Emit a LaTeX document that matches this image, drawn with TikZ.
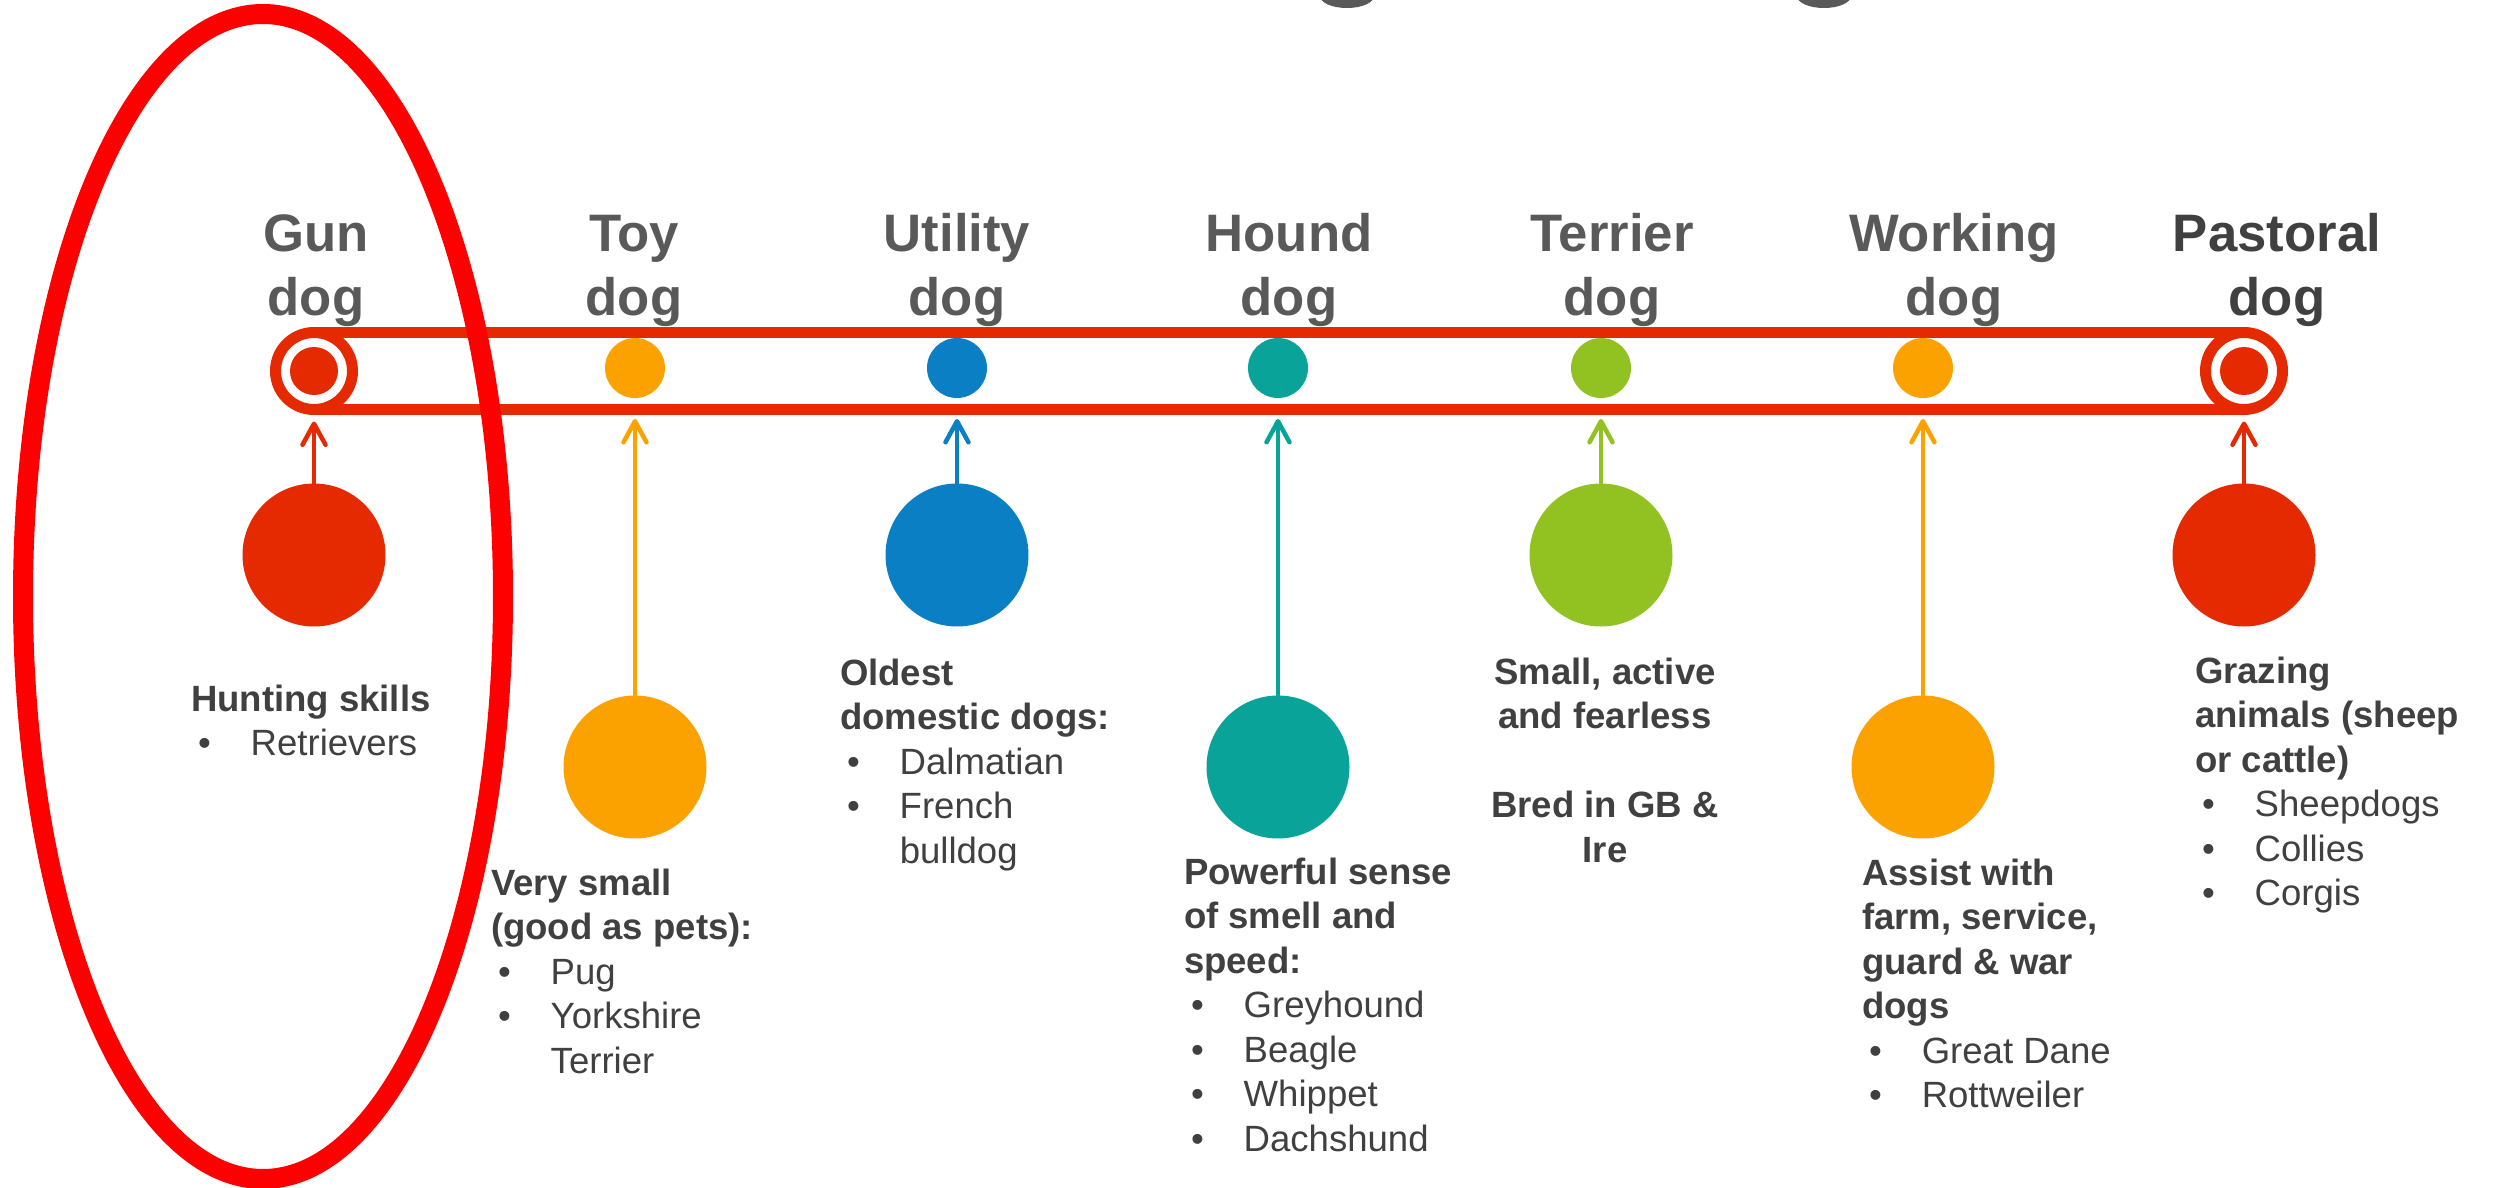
\documentclass[tikz,border=0pt]{standalone}
\usepackage{fontspec}
\setmainfont{Liberation Sans}
\usetikzlibrary{arrows.meta,positioning}

\definecolor{dogred}{HTML}{E52900}
\definecolor{dogorange}{HTML}{FBA200}
\definecolor{dogblue}{HTML}{0B7FC4}
\definecolor{dogteal}{HTML}{0AA39A}
\definecolor{doggreen}{HTML}{91C222}
\definecolor{ovalred}{HTML}{FF0000}
\definecolor{labelgray}{HTML}{595959}
\definecolor{infogray}{HTML}{404040}

\newcommand{\dogitem}[1]{\makebox[17pt][l]{\hspace{2pt}\textbullet}#1}
\newcommand{\dogmore}[1]{\hspace*{17pt}#1}

\begin{document}
\begin{tikzpicture}[x=0.1mm,y=-0.1mm]
\tikzstyle{every node}=[inner sep=0pt, outer sep=0pt]
\tikzstyle{catdot}=[circle, minimum size=6mm]
\tikzstyle{catring}=[circle, draw=dogred, line width=1.1mm, minimum size=7.7mm]
\tikzstyle{bigdot}=[circle, minimum size=14.3mm]
\tikzstyle{catlabel}=[anchor=base, align=center, text=labelgray, font=\fontsize{15}{18.2}\selectfont\bfseries]
\tikzstyle{info}=[anchor=base west, align=left, text=infogray, font=\fontsize{10.4}{12.66}\selectfont]
\tikzstyle{hang}=[line width=0.45mm, -{Straight Barb[length=2.1mm,width=2.3mm,round]}, shorten >=2.1mm]

\useasboundingbox (0,0) rectangle (2496,1188);

% bits of the cut-off title
\fill[labelgray] (1347,-4) ellipse [x radius=2.7mm, y radius=1.2mm];
\fill[labelgray] (1824,-4) ellipse [x radius=2.7mm, y radius=1.2mm];

% track
\draw (314,371) node (gunRing) [catring] {};
\draw (2244,371) node (pasRing) [catring] {};
\draw[dogred, line width=1.1mm] (gunRing.north) -- (pasRing.north);
\draw[dogred, line width=1.1mm] (gunRing.south) -- (pasRing.south);
\draw (314,371) node (gunDot) [catdot, fill=dogred, minimum size=4.8mm] {};
\draw (2244,371) node (pasDot) [catdot, fill=dogred, minimum size=4.8mm] {};
\draw (635,368) node (toyDot) [catdot, fill=dogorange] {};
\draw (957,368) node (utiDot) [catdot, fill=dogblue] {};
\draw (1278,368) node (houDot) [catdot, fill=dogteal] {};
\draw (1601,368) node (terDot) [catdot, fill=doggreen] {};
\draw (1923,368) node (worDot) [catdot, fill=dogorange] {};

% category names (base = last line)
\draw (316,315) node (gunName) [catlabel] {Gun\\dog};
\draw (634,315) node (toyName) [catlabel] {Toy\\dog};
\draw (957,315) node (utiName) [catlabel] {Utility\\dog};
\draw (1289,315) node (houName) [catlabel] {Hound\\dog};
\draw (1612,315) node (terName) [catlabel] {Terrier\\dog};
\draw (1954,315) node (worName) [catlabel] {Working\\dog};
\draw (2277,315) node (pasName) [catlabel, text=infogray] {Pastoral\\dog};

% hanging circles
\draw (314,555) node (gunBig) [bigdot, fill=dogred] {};
\draw (635,767) node (toyBig) [bigdot, fill=dogorange] {};
\draw (957,555) node (utiBig) [bigdot, fill=dogblue] {};
\draw (1278,767) node (houBig) [bigdot, fill=dogteal] {};
\draw (1601,555) node (terBig) [bigdot, fill=doggreen] {};
\draw (1923,767) node (worBig) [bigdot, fill=dogorange] {};
\draw (2244,555) node (pasBig) [bigdot, fill=dogred] {};

\draw[hang, dogred, shorten >=1.2mm] (gunBig) -- (gunRing);
\draw[hang, dogorange] (toyBig) -- (toyDot);
\draw[hang, dogblue] (utiBig) -- (utiDot);
\draw[hang, dogteal] (houBig) -- (houDot);
\draw[hang, doggreen] (terBig) -- (terDot);
\draw[hang, dogorange] (worBig) -- (worDot);
\draw[hang, dogred, shorten >=1.2mm] (pasBig) -- (pasRing);

% descriptions (base = last line)
\draw (191,755.5) node (gunInfo) [info] {\textbf{Hunting skills}\\\dogitem{Retrievers}};
\draw (491,1073) node (toyInfo) [info] {\textbf{Very small}\\\textbf{(good as pets):}\\\dogitem{Pug}\\\dogitem{Yorkshire}\\\dogmore{Terrier}};
\draw (840,863) node (utiInfo) [info] {\textbf{Oldest}\\\textbf{domestic dogs:}\\\dogitem{Dalmatian}\\\dogitem{French}\\\dogmore{bulldog}};
\draw (1184,1151) node (houInfo) [info] {\textbf{Powerful sense}\\\textbf{of smell and}\\\textbf{speed:}\\\dogitem{Greyhound}\\\dogitem{Beagle}\\\dogitem{Whippet}\\\dogitem{Dachshund}};
\draw (1605,862) node (terInfo) [info, anchor=base, align=center, font=\fontsize{10.4}{12.66}\selectfont\bfseries] {Small, active\\and fearless\\[12.66pt]Bred in GB \&\\Ire};
\draw (1862,1107.5) node (worInfo) [info] {\textbf{Assist with}\\\textbf{farm, service,}\\\textbf{guard \& war}\\\textbf{dogs}\\\dogitem{Great Dane}\\\dogitem{Rottweiler}};
\draw (2195,905.5) node (pasInfo) [info] {\textbf{Grazing}\\\textbf{animals (sheep}\\\textbf{or cattle)}\\\dogitem{Sheepdogs}\\\dogitem{Collies}\\\dogitem{Corgis}};

% the oval round the gun dog
\draw[ovalred, line width=2mm] (263,596.5) ellipse [x radius=24mm, y radius=58.25mm];
\end{tikzpicture}
\end{document}
